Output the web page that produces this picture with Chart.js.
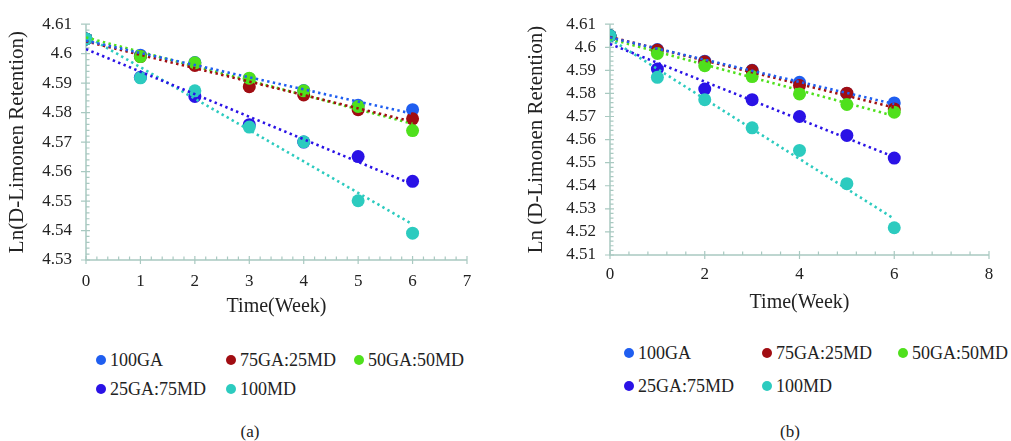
<!DOCTYPE html>
<html><head><meta charset="utf-8">
<script src="https://cdn.jsdelivr.net/npm/chart.js@4.4.1/dist/chart.umd.min.js"></script>
<style>
html,body{margin:0;padding:0;background:#fff}
body{width:1011px;height:441px;overflow:hidden;position:relative;font-family:"Liberation Serif","Times New Roman",serif;color:#222}
.cw{position:absolute;top:0;height:320px}
#wa{left:0;width:500px}
#wb{left:500px;width:511px}
.item{position:absolute;white-space:nowrap;font-size:18px;line-height:20px;height:20px}
.dot{position:absolute;width:10px;height:10px;border-radius:50%;top:5px}
.item span.t{position:absolute;top:0}
.cap{position:absolute;font-size:17px;line-height:20px;transform:translateX(-50%)}
</style>
</head><body>
<div class="cw" id="wa"><canvas id="ca"></canvas></div>
<div class="cw" id="wb"><canvas id="cb"></canvas></div>
<div id="legends"></div>
<div class="cap" style="left:250px;top:422px">(a)</div>
<div class="cap" style="left:790px;top:422px">(b)</div>
<script>
// ---------- data ----------
const weeks = [0, 1, 2, 3, 4, 5, 6];
const seriesNames = ['100GA', '75GA:25MD', '50GA:50MD', '25GA:75MD', '100MD'];
const seriesColors = ['#1f5ef0', '#a10d12', '#4fe01c', '#2a12e6', '#2ccbbf'];

// Panel (a)
const a_100GA    = [4.605, 4.5995, 4.597, 4.5915, 4.5875, 4.5825, 4.581];
const a_75GA25MD = [4.605, 4.599, 4.596, 4.5888, 4.586, 4.581, 4.5779];
const a_50GA50MD = [4.605, 4.599, 4.5969, 4.5917, 4.5874, 4.5821, 4.5739];
const a_25GA75MD = [4.605, 4.592, 4.5855, 4.5759, 4.570, 4.5651, 4.5567];
const a_100MD    = [4.605, 4.5918, 4.5874, 4.5751, 4.5701, 4.5501, 4.5391];

// Panel (b)
const b_100GA    = [4.605, 4.599, 4.594, 4.590, 4.5848, 4.580, 4.5759];
const b_75GA25MD = [4.605, 4.5988, 4.5937, 4.5899, 4.5834, 4.5801, 4.5733];
const b_50GA50MD = [4.605, 4.5973, 4.592, 4.5873, 4.5798, 4.5752, 4.5719];
const b_25GA75MD = [4.605, 4.5906, 4.5819, 4.5773, 4.570, 4.5618, 4.552];
const b_100MD    = [4.605, 4.587, 4.5773, 4.5651, 4.5553, 4.5409, 4.5218];

// Tick labels
const xTicksA = [0, 1, 2, 3, 4, 5, 6, 7];
const yTicksA = [4.53, 4.54, 4.55, 4.56, 4.57, 4.58, 4.59, 4.60, 4.61];
const xTicksB = [0, 2, 4, 6, 8];
const yTicksB = [4.51, 4.52, 4.53, 4.54, 4.55, 4.56, 4.57, 4.58, 4.59, 4.60, 4.61];

const xTitle = 'Time(Week)';
const yTitleA = 'Ln(D-Limonen Retention)';
const yTitleB = 'Ln (D-Limonen Retention)';

// ---------- helpers ----------
const FONT = '"Liberation Serif","Times New Roman",serif';
const AXIS_COLOR = '#a9c9c1';

function linFit(xs, ys) {
  const n = xs.length;
  const mx = xs.reduce((s, v) => s + v, 0) / n;
  const my = ys.reduce((s, v) => s + v, 0) / n;
  let sxy = 0, sxx = 0;
  for (let i = 0; i < n; i++) { sxy += (xs[i] - mx) * (ys[i] - my); sxx += (xs[i] - mx) ** 2; }
  const m = sxy / sxx;
  return { m, b: my - m * mx };
}

function buildDatasets(seriesList) {
  const ds = [];
  seriesList.forEach((vals, i) => {
    const col = seriesColors[i];
    ds.push({
      label: seriesNames[i],
      data: weeks.map((w, k) => ({ x: w, y: vals[k] })),
      backgroundColor: col, borderColor: col,
      pointRadius: 6.5, pointBorderWidth: 0,
      showLine: false,
      order: 10 - i
    });
  });
  seriesList.forEach((vals, i) => {
    const col = seriesColors[i];
    const f = linFit(weeks, vals);
    const x0 = weeks[0], x1 = weeks[weeks.length - 1];
    ds.push({
      label: seriesNames[i] + ' trend',
      data: [{ x: x0, y: f.b + f.m * x0 }, { x: x1, y: f.b + f.m * x1 }],
      borderColor: col, borderWidth: 2.6,
      borderDash: [2.4, 3.4], borderCapStyle: 'butt',
      pointRadius: 0, showLine: true, fill: false,
      order: 0
    });
  });
  return ds;
}

const axisDeco = {
  id: 'axisDeco',
  beforeDatasetsDraw(chart) {
    const { ctx, chartArea: { left, right, top, bottom }, scales: { x, y } } = chart;
    ctx.save();
    ctx.strokeStyle = AXIS_COLOR;
    ctx.lineWidth = 1.5;
    ctx.beginPath();
    ctx.moveTo(left, top); ctx.lineTo(left, bottom); ctx.lineTo(right, bottom);
    ctx.stroke();
    ctx.lineWidth = 1.2;
    const xv = x.ticks.map(t => t.value), yv = y.ticks.map(t => t.value);
    ctx.beginPath();
    xv.forEach((v, i) => {
      const p = x.getPixelForValue(v);
      ctx.moveTo(p, bottom - 4); ctx.lineTo(p, bottom + 4);
      if (i < xv.length - 1) for (let k = 1; k < 5; k++) {
        const q = x.getPixelForValue(v + (xv[i + 1] - v) * k / 5);
        ctx.moveTo(q, bottom - 3.5); ctx.lineTo(q, bottom);
      }
    });
    yv.forEach((v, i) => {
      const p = y.getPixelForValue(v);
      ctx.moveTo(left - 5, p); ctx.lineTo(left + 4, p);
      if (i < yv.length - 1) for (let k = 1; k < 5; k++) {
        const q = y.getPixelForValue(v + (yv[i + 1] - v) * k / 5);
        ctx.moveTo(left, q); ctx.lineTo(left + 3.5, q);
      }
    });
    ctx.stroke();
    ctx.restore();
  }
};

function makeChart(canvasId, seriesList, xt, yt, cfg) {
  return new Chart(document.getElementById(canvasId), {
    type: 'scatter',
    data: { datasets: buildDatasets(seriesList) },
    plugins: [axisDeco],
    options: {
      responsive: true, maintainAspectRatio: false, animation: false,
      layout: { padding: { top: cfg.padTop, right: cfg.padRight, left: 0, bottom: 0 } },
      plugins: { legend: { display: false }, tooltip: { enabled: false } },
      scales: {
        x: {
          type: 'linear', min: xt[0], max: xt[xt.length - 1],
          afterBuildTicks: s => { s.ticks = xt.map(v => ({ value: v })); },
          afterFit: s => { s.height = cfg.xH; },
          grid: { display: false, drawTicks: false },
          border: { display: false },
          ticks: { autoSkip: false, maxRotation: 0, color: '#222', padding: cfg.xPad, font: { family: FONT, size: 17 }, callback: v => String(v) },
          title: { display: true, text: xTitle, color: '#222', font: { family: FONT, size: 20 }, padding: { top: 0, bottom: cfg.xTitlePad } }
        },
        y: {
          type: 'linear', min: yt[0], max: yt[yt.length - 1],
          afterBuildTicks: s => { s.ticks = yt.map(v => ({ value: v })); },
          afterFit: s => { s.width = cfg.yW; },
          grid: { display: false, drawTicks: false },
          border: { display: false },
          ticks: { autoSkip: false, color: '#222', padding: 14, font: { family: FONT, size: 17 }, callback: v => String(+(+v).toFixed(2)) },
          title: { display: true, text: cfg.yTitle, color: '#222', font: { family: FONT, size: 21 }, padding: { top: cfg.yTitlePad, bottom: 0 } }
        }
      }
    }
  });
}

makeChart('ca', [a_100GA, a_75GA25MD, a_50GA50MD, a_25GA75MD, a_100MD], xTicksA, yTicksA,
  { padTop: 21, padRight: 33, xH: 60, yW: 86, xPad: 11, xTitlePad: 1, yTitlePad: 5, yTitle: yTitleA });
makeChart('cb', [b_100GA, b_75GA25MD, b_50GA50MD, b_25GA75MD, b_100MD], xTicksB, yTicksB,
  { padTop: 23, padRight: 22, xH: 65, yW: 110, xPad: 9, xTitlePad: 5, yTitlePad: 24, yTitle: yTitleB });

// ---------- HTML legends (built from series names & colours) ----------
const legendLayouts = [
  { cols: [101, 231, 359], rows: [360, 389], order: [0, 1, 2, 3, 4] },
  { cols: [629, 767, 903], rows: [353, 386], order: [0, 1, 2, 3, 4] }
];
const lg = document.getElementById('legends');
legendLayouts.forEach(L => {
  L.order.forEach((si, k) => {
    const r = Math.floor(k / 3), c = k % 3;
    const it = document.createElement('div');
    it.className = 'item';
    it.style.left = (L.cols[c] - 5) + 'px';
    it.style.top = (L.rows[r] - 10) + 'px';
    const d = document.createElement('span');
    d.className = 'dot'; d.style.left = '0px'; d.style.background = seriesColors[si];
    const t = document.createElement('span');
    t.className = 't'; t.style.left = '14px'; t.textContent = seriesNames[si];
    it.appendChild(d); it.appendChild(t);
    lg.appendChild(it);
  });
});
</script>
</body></html>
